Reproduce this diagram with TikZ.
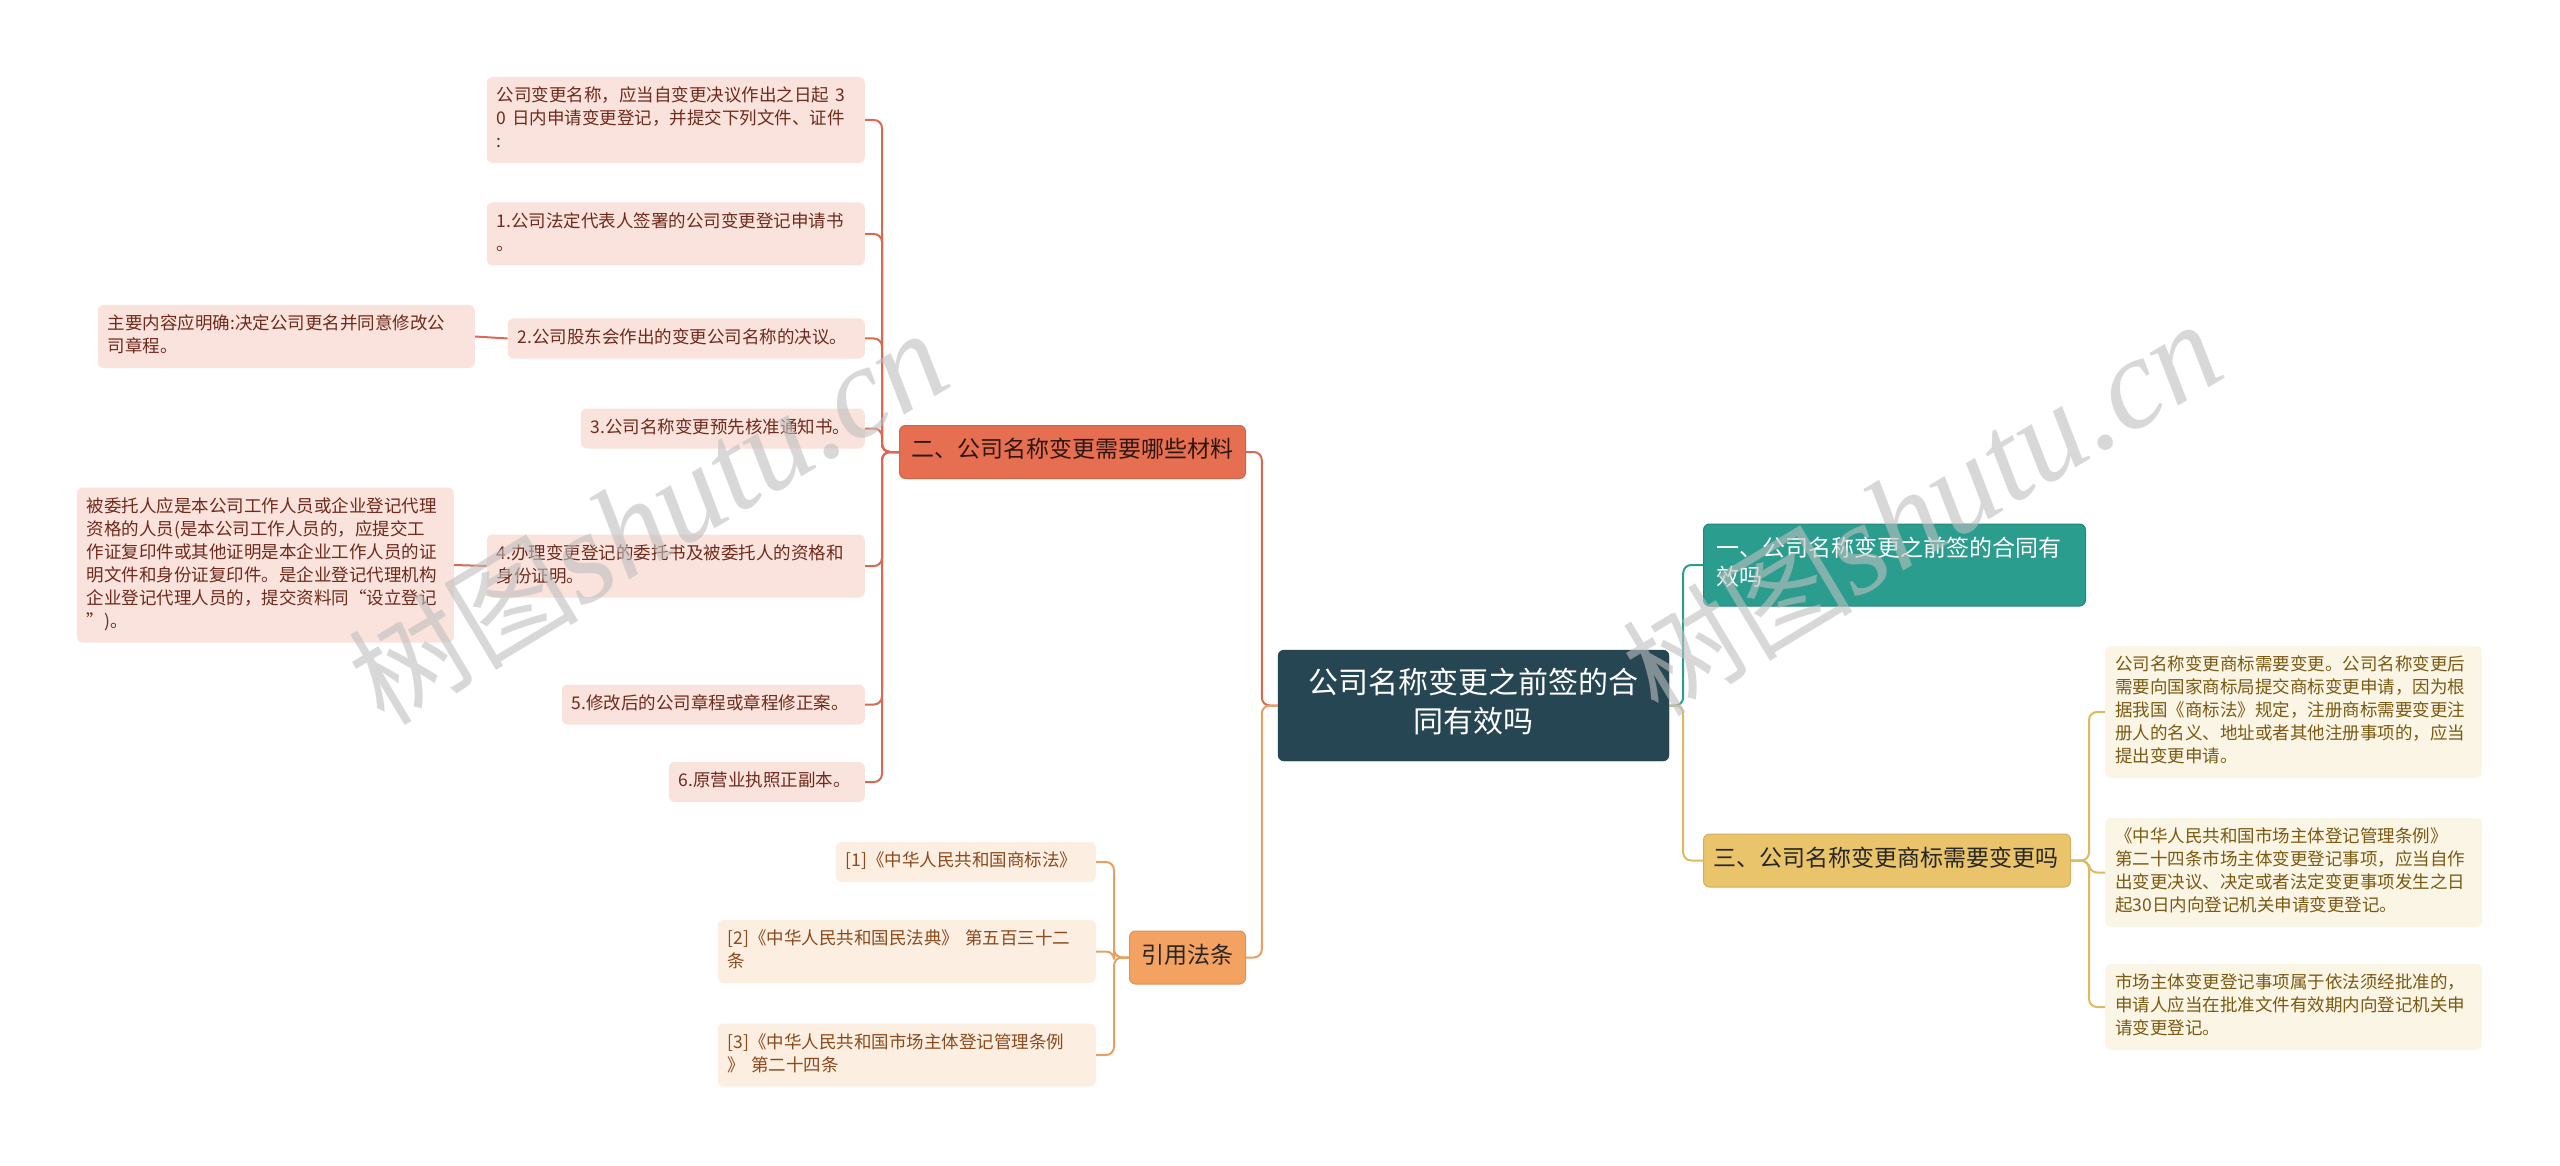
\documentclass[tikz,border=0pt]{standalone}
\usepackage{fontspec}
\usepackage{tikz}
\usetikzlibrary{positioning,calc}
\newfontfamily\cjk{Noto Sans CJK SC}
\newfontfamily\wmlat{Liberation Serif}
\definecolor{navy}{HTML}{264653}
\definecolor{teal}{HTML}{2A9D8F}
\definecolor{gold}{HTML}{E9C46A}
\definecolor{orng}{HTML}{F4A261}
\definecolor{coral}{HTML}{E76F51}
\definecolor{coralfill}{HTML}{FAE3DC}
\definecolor{coraltext}{HTML}{6E2A1C}
\definecolor{coralline}{HTML}{D96A4F}
\definecolor{orngfill}{HTML}{FDEEE2}
\definecolor{orngtext}{HTML}{8A4A1C}
\definecolor{orngline}{HTML}{E8A062}
\definecolor{goldfill}{HTML}{FBF5E6}
\definecolor{goldtext}{HTML}{7A5A12}
\definecolor{goldline}{HTML}{DDB960}

\begin{document}
\begin{tikzpicture}[x=1pt,y=-1pt,
    box/.style={rounded corners=6pt, align=left, execute at begin node=\strut, execute at end node=\strut},
    leaf/.style={box, inner xsep=10pt, inner ysep=8.5pt, font=\cjk\fontsize{17.5}{23}\selectfont},
    cleaf/.style={leaf, fill=coralfill, text=coraltext, anchor=east},
    oleaf/.style={leaf, fill=orngfill, text=orngtext, anchor=east},
    gleaf/.style={leaf, fill=goldfill, text=goldtext, anchor=west},
    branch/.style={box, inner ysep=12pt, line width=1pt, font=\cjk\fontsize{23}{29}\selectfont},
    link/.style={line width=2pt, rounded corners=8pt},
    wm/.style={rotate=31, text=black!25, opacity=.6, font=\cjk\fontsize{115}{120}\selectfont}]
    \useasboundingbox[fill=white] (0,0) rectangle (2560,1166);

    % root and main branches
    \node[box, fill=navy, draw=navy!80!black, text=white, align=center, text width=351pt,
        inner xsep=20pt, inner ysep=16.5pt, font=\cjk\fontsize{30}{39}\selectfont] (root) at (1473.5,705.5)
        {公司名称变更之前签的合\\同有效吗};
    \node[branch, fill=teal, draw=teal!85!black, text=white, anchor=west, text width=356pt, inner xsep=13pt] (b1) at (1703,565)
        {一、公司名称变更之前签的合同有\\效吗};
    \node[branch, fill=gold, draw=gold!90!black, text=black!85, anchor=west, text width=347pt, inner xsep=10pt] (b3) at (1703,860.5)
        {三、公司名称变更商标需要变更吗};
    \node[branch, fill=coral, draw=coral!90!black, text=black!80!coral, anchor=east, text width=322pt, inner xsep=12pt] (b2) at (1246,452)
        {二、公司名称变更需要哪些材料};
    \node[branch, fill=orng, draw=orng!90!black, text=black!85, anchor=east, text width=92pt, inner xsep=12pt] (b4) at (1246,957.5)
        {引用法条};

    % materials
    \node[cleaf, text width=358pt] (c0) at (865,120)
        {公司变更名称，应当自变更决议作出之日起 3\\0 日内申请变更登记，并提交下列文件、证件\\:};
    \node[cleaf, text width=358pt] (c1) at (865,234)
        {1.公司法定代表人签署的公司变更登记申请书\\。};
    \node[cleaf, text width=337pt] (c2) at (865,338.5)
        {2.公司股东会作出的变更公司名称的决议。};
    \node[cleaf, text width=264pt] (c3) at (865,428.5)
        {3.公司名称变更预先核准通知书。};
    \node[cleaf, text width=358pt] (c4) at (865,566)
        {4.办理变更登记的委托书及被委托人的资格和\\身份证明。};
    \node[cleaf, text width=283pt] (c5) at (865,704.5)
        {5.修改后的公司章程或章程修正案。};
    \node[cleaf, text width=176pt] (c6) at (865,782)
        {6.原营业执照正副本。};
    \node[cleaf, text width=357pt] (g2) at (475,336.5)
        {主要内容应明确:决定公司更名并同意修改公\\司章程。};
    \node[cleaf, text width=357pt] (g4) at (454,565)
        {被委托人应是本公司工作人员或企业登记代理\\资格的人员(是本公司工作人员的，应提交工\\作证复印件或其他证明是本企业工作人员的证\\明文件和身份证复印件。是企业登记代理机构\\企业登记代理人员的，提交资料同“设立登记\\”)。};

    % laws
    \node[oleaf, text width=240pt] (r1) at (1096,862)
        {[1]《中华人民共和国商标法》};
    \node[oleaf, text width=358pt] (r2) at (1096,951.5)
        {[2]《中华人民共和国民法典》 第五百三十二\\条};
    \node[oleaf, text width=358pt] (r3) at (1096,1055)
        {[3]《中华人民共和国市场主体登记管理条例\\》 第二十四条};

    % trademark
    \node[gleaf, text width=357pt] (s1) at (2105,712)
        {公司名称变更商标需要变更。公司名称变更后\\需要向国家商标局提交商标变更申请，因为根\\据我国《商标法》规定，注册商标需要变更注\\册人的名义、地址或者其他注册事项的，应当\\提出变更申请。};
    \node[gleaf, text width=357pt] (s2) at (2105,872.5)
        {《中华人民共和国市场主体登记管理条例》\\第二十四条市场主体变更登记事项，应当自作\\出变更决议、决定或者法定变更事项发生之日\\起30日内向登记机关申请变更登记。};
    \node[gleaf, text width=357pt] (s3) at (2105,1007)
        {市场主体变更登记事项属于依法须经批准的，\\申请人应当在批准文件有效期内向登记机关申\\请变更登记。};

    % connectors
    \draw[link, coralline] (root.west) -- ++(-16,0) |- (b2.east);
    \draw[link, orngline] (root.west) -- ++(-16,0) |- (b4.east);
    \draw[link, teal] (root.east) -- ++(14,0) |- (b1.west);
    \draw[link, goldline] (root.east) -- ++(14,0) |- (b3.west);
    \foreach \n in {c0,c1,c2,c3,c4,c5,c6}
        \draw[link, coralline] (b2.west) -- ++(-17,0) |- (\n.east);
    \draw[link, coralline] (c2.west) -- (g2.east);
    \draw[link, coralline] (c4.west) -- (g4.east);
    \foreach \n in {r1,r2,r3}
        \draw[link, orngline] (b4.west) -- ++(-15,0) |- (\n.east);
    \foreach \n in {s1,s2,s3}
        \draw[link, goldline] (b3.east) -- ++(18,0) |- (\n.west);

    % watermarks
    \node[wm] (wm1) at (648,518) {树图{\wmlat\itshape\fontsize{130}{132}\selectfont shutu.cn}};
    \node[wm] (wm2) at (1922,509) {树图{\wmlat\itshape\fontsize{130}{132}\selectfont shutu.cn}};
\end{tikzpicture}
\end{document}
